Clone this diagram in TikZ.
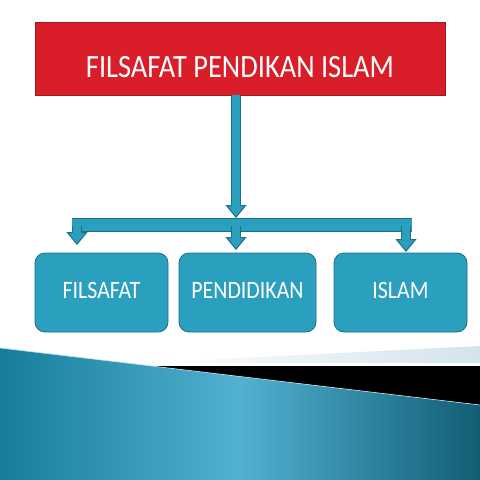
\documentclass[tikz,border=0pt]{standalone}
\usepackage{fontspec}
\newfontfamily\slidefont[FakeStretch=0.875]{Carlito}
\usetikzlibrary{arrows.meta}
\definecolor{titlered}{HTML}{D91E2A}
\definecolor{titleedge}{HTML}{A5161F}
\definecolor{boxteal}{HTML}{2AA0BE}
\definecolor{boxedge}{HTML}{1D6F87}
\definecolor{deepteal}{HTML}{177D9B}
\definecolor{lightteal}{HTML}{52B0D1}
\definecolor{paleband}{HTML}{D3E4EB}
\tikzset{
    titlebox/.style={draw=titleedge, fill=titlered, line width=0.8pt, text=white, inner sep=0pt,
        minimum width=410pt, text height=55pt, text depth=18pt, font=\slidefont\fontsize{32.5}{36}\selectfont},
    topicbox/.style={draw=boxedge, fill=boxteal, line width=0.8pt, rounded corners=10pt, text=white,
        inner sep=0pt, minimum height=79pt, text depth=4pt, font=\slidefont\fontsize{25}{28}\selectfont},
    flow/.style={draw=boxedge, line width=10pt,
        -{Triangle[width=21pt,length=13pt,fill=boxteal,line width=1pt]},
        postaction={draw=boxteal, line width=8pt, -, shorten >=12pt}},
    bar/.style={draw=boxedge, line width=14pt, postaction={draw=boxteal, line width=12pt}}
}
\begin{document}
\begin{tikzpicture}[x=1pt, y=-1pt]
    \useasboundingbox (0,0) rectangle (480,480);
    % Background:
    \fill[white] (0,0) rectangle (480,480);
    \shade[left color=white, right color=paleband] (140,363) -- (480,346) -- (480,363) -- cycle;
    \fill[black] (151,366) -- (480,366) -- (480,405) -- cycle;
    \shade[left color=deepteal, right color=deepteal!75!black, middle color=lightteal]
        (0,348) -- (480,405) -- (480,480) -- (0,480) -- cycle;
    \draw[white!60!lightteal, line width=0.6pt] (0,348) -- (480,405);

    % Nodes:
    \node[titlebox] (title) at (240,58.5) {FILSAFAT PENDIKAN ISLAM};
    \node[topicbox, minimum width=133pt] (filsafat) at (101.5,292.5) {FILSAFAT};
    \node[topicbox, minimum width=137pt] (pendidikan) at (247.5,292.5) {PENDIDIKAN};
    \node[topicbox, minimum width=133pt] (islam) at (400.5,292.5) {ISLAM};

    % Connectors:
    \coordinate (hub) at (236,218);
    \coordinate (barL) at (72,224.5);
    \coordinate (barR) at (412,224.5);
    \draw[flow] (hub |- title.south) -- (hub);
    \draw[bar] (barL) -- (barR);
    \coordinate (dropL) at (77,226);
    \coordinate (dropM) at (236,226);
    \coordinate (dropR) at (406,226);
    \draw[flow] (dropL) -- (dropL |- 0,245);
    \draw[flow] (dropM) -- (dropM |- 0,250);
    \draw[flow] (dropR) -- (dropR |- 0,252);
\end{tikzpicture}
\end{document}
